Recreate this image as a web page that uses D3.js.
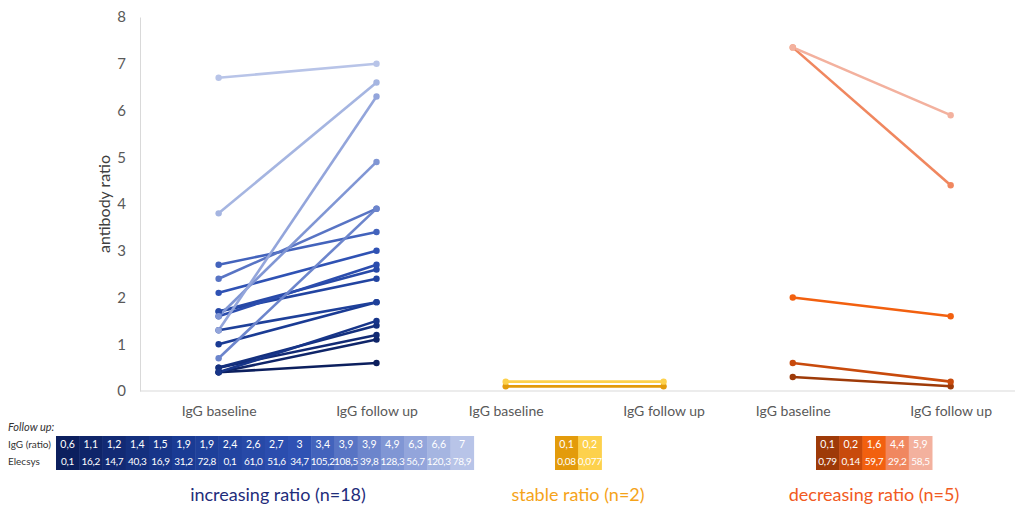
<!DOCTYPE html>
<html>
<head>
<meta charset="utf-8">
<script src="https://cdn.jsdelivr.net/npm/d3@7"></script>
<style>
  body { margin: 0; background: #fff; }
  svg { display: block; font-family: Lato, "Noto Sans", sans-serif; }
</style>
</head>
<body>
<svg id="chart" width="1021" height="507"></svg>
<script>
// categories
const categories = ['IgG baseline', 'IgG follow up'];
const groups = ['increasing', 'stable', 'decreasing'];
const groupTitles = ['increasing ratio (n=18)', 'stable ratio (n=2)', 'decreasing ratio (n=5)'];
const rowLabels = ['IgG (ratio)', 'Elecsys'];

// increasing ratio, sorted by follow up value
const incBaseline = [0.4, 0.4, 0.5, 0.5, 0.4, 1.0, 1.3, 1.7, 1.7, 1.6, 2.1, 2.7, 2.4, 0.7, 1.6, 1.3, 3.8, 6.7];
const incFollowUp = [0.6, 1.1, 1.2, 1.4, 1.5, 1.9, 1.9, 2.4, 2.6, 2.7, 3, 3.4, 3.9, 3.9, 4.9, 6.3, 6.6, 7];
const incElecsys = ['0,1', '16,2', '14,7', '40,3', '16,9', '31,2', '72,8', '0,1', '61,0', '51,6', '34,7',
  '105,2', '108,5', '39,8', '128,3', '56,7', '120,3', '78,9'];

// stable ratio
const stbBaseline = [0.1, 0.2];
const stbFollowUp = [0.1, 0.2];
const stbElecsys = ['0,08', '0,077'];

// decreasing ratio
const decBaseline = [0.3, 0.6, 2.0, 7.35, 7.35];
const decFollowUp = [0.1, 0.2, 1.6, 4.4, 5.9];
const decElecsys = ['0,79', '0,14', '59,7', '29,2', '58,5'];

const svg = d3.select('#chart');
const plot = { left: 140, right: 1015, top: 17, bottom: 391 };

const y = d3.scaleLinear([0, 8], [plot.bottom, plot.top]);

const xGroup = d3.scaleBand()
  .domain(groups)
  .range([plot.left, plot.right])
  .paddingInner(0.45)
  .paddingOuter(0.249)
  .align(0.55);

const xInner = d3.scalePoint()
  .domain(categories)
  .range([0, xGroup.bandwidth()]);

const incColor = d3.scaleLinear()
  .domain([0, 5, 10, 14, 17])
  .range(['#0c1f5e', '#1a3b94', '#2f52b4', '#8096d4', '#b8c4e8']);
const stbColor = d3.scaleOrdinal().domain([0, 1]).range(['#e39b0b', '#fdd14c']);
const decColor = d3.scaleOrdinal().domain([0, 1, 2, 3, 4])
  .range(['#9e3a08', '#c84a0c', '#f2600f', '#f0875f', '#f3b19e']);

const series = [
  { group: 'increasing', base: incBaseline, follow: incFollowUp, elecsys: incElecsys, color: incColor, title: '#1f2d7b', tableX: 56 },
  { group: 'stable', base: stbBaseline, follow: stbFollowUp, elecsys: stbElecsys, color: stbColor, title: '#f5a31a', tableX: 555 },
  { group: 'decreasing', base: decBaseline, follow: decFollowUp, elecsys: decElecsys, color: decColor, title: '#f15a22', tableX: 816 },
];

// axes
const yAxis = d3.axisLeft(y).ticks(8).tickSize(0).tickPadding(14);
svg.append('g')
  .attr('transform', `translate(${plot.left},0)`)
  .call(yAxis)
  .call((g) => g.select('.domain').attr('stroke', '#d9d9d9'))
  .call((g) => g.selectAll('text').attr('fill', '#595959').style('font-size', '15px').style('font-family', 'Lato, sans-serif'));

svg.append('line')
  .attr('x1', plot.left).attr('x2', plot.right)
  .attr('y1', plot.bottom).attr('y2', plot.bottom)
  .attr('stroke', '#d9d9d9');

groups.forEach((g) => {
  svg.append('g')
    .attr('transform', `translate(${xGroup(g)},${plot.bottom})`)
    .call(d3.axisBottom(xInner).tickSize(0).tickPadding(15))
    .call((a) => a.select('.domain').remove())
    .call((a) => a.selectAll('text').attr('fill', '#595959').style('font-size', '14px').style('font-family', 'Lato, sans-serif'));
});

svg.append('text')
  .attr('transform', `translate(110,${(plot.top + plot.bottom) / 2}) rotate(-90)`)
  .attr('text-anchor', 'middle')
  .attr('fill', '#404040')
  .style('font-size', '16px')
  .text('antibody ratio');

// lines
series.forEach((s) => {
  const x0 = xGroup(s.group) + xInner(categories[0]);
  const x1 = xGroup(s.group) + xInner(categories[1]);
  const pairs = s.base.map((b, i) => ({ b, f: s.follow[i], i }));
  const g = svg.append('g');
  g.selectAll('line')
    .data(pairs)
    .join('line')
    .attr('x1', x0).attr('x2', x1)
    .attr('y1', (d) => y(d.b)).attr('y2', (d) => y(d.f))
    .attr('stroke', (d) => s.color(d.i))
    .attr('stroke-width', 2.6);
  pairs.forEach((d) => {
    g.append('circle').attr('cx', x0).attr('cy', y(d.b)).attr('r', 3.2).attr('fill', s.color(d.i));
    g.append('circle').attr('cx', x1).attr('cy', y(d.f)).attr('r', 3.2).attr('fill', s.color(d.i));
  });
});

// follow up table
svg.append('text')
  .attr('x', 8).attr('y', 431)
  .attr('fill', '#333')
  .style('font-size', '11px')
  .style('font-style', 'italic')
  .text('Follow up:');

const rowY = d3.scaleBand().domain(rowLabels).range([436, 470]);

svg.selectAll('.rowlabel')
  .data(rowLabels)
  .join('text')
  .attr('class', 'rowlabel')
  .attr('x', 8)
  .attr('y', (d) => rowY(d) + rowY.bandwidth() / 2 + 3.5)
  .attr('fill', '#333')
  .style('font-size', '10px')
  .text((d) => d);

const cellW = 23.2;
series.forEach((s) => {
  const n = s.follow.length;
  const xc = d3.scaleBand().domain(d3.range(n)).range([s.tableX, s.tableX + n * cellW]);
  const t = svg.append('g');
  t.selectAll('rect')
    .data(d3.range(n))
    .join('rect')
    .attr('x', (i) => xc(i))
    .attr('y', rowY(rowLabels[0]))
    .attr('width', xc.bandwidth() + 0.5)
    .attr('height', rowY.bandwidth() * 2)
    .attr('fill', (i) => s.color(i));
  const rows = [s.follow.map((v) => String(v).replace('.', ',')), s.elecsys];
  rows.forEach((vals, r) => {
    t.selectAll(`.r${r}`)
      .data(vals)
      .join('text')
      .attr('class', `r${r}`)
      .attr('x', (d, i) => xc(i) + xc.bandwidth() / 2)
      .attr('y', rowY(rowLabels[r]) + rowY.bandwidth() / 2 + 3.5)
      .attr('text-anchor', 'middle')
      .attr('fill', '#fff')
      .style('font-size', r === 0 ? '10.5px' : '10px')
      .style('letter-spacing', r === 0 ? '0' : '-0.3px')
      .text((d) => d);
  });
});

// group titles
const titleX = [278, 578, 874];
series.forEach((s, i) => {
  svg.append('text')
    .attr('x', titleX[i]).attr('y', 501)
    .attr('text-anchor', 'middle')
    .attr('fill', s.title)
    .style('font-size', '18px')
    .text(groupTitles[i]);
});
</script>
</body>
</html>
